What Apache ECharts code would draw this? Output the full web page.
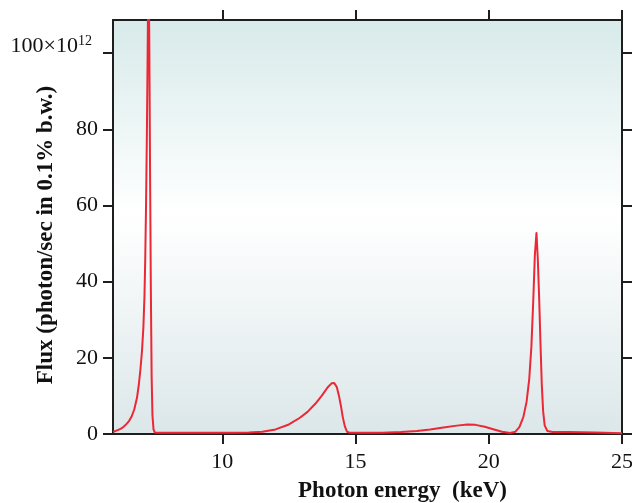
<!DOCTYPE html>
<html>
<head>
<meta charset="utf-8">
<script src="https://cdn.jsdelivr.net/npm/echarts@6/dist/echarts.min.js"></script>
<style>
  html, body { margin: 0; padding: 0; background: #ffffff; }
  #chart { width: 632px; height: 503px; }
</style>
</head>
<body>
<div id="chart"></div>
<script>
// Photon energy (keV)
const energy = [
  5.9, 6.0, 6.1, 6.2, 6.3, 6.4, 6.5, 6.6, 6.7, 6.8, 6.87, 6.93, 6.99, 7.04, 7.08, 7.11, 7.14, 7.17,
  7.20, 7.23, 7.26, 7.29, 7.32, 7.35, 7.38, 7.42, 7.47, 7.6,
  8.5, 9.5, 10.5, 11.0, 11.5, 12.0, 12.5, 12.9, 13.2, 13.5, 13.75, 13.95, 14.1, 14.2, 14.3,
  14.38, 14.45, 14.52, 14.6, 14.68, 14.8,
  15.5, 16.0, 16.7, 17.3, 17.8, 18.3, 18.8, 19.2, 19.5, 19.85, 20.2, 20.5, 20.8,
  21.0, 21.15, 21.3, 21.42, 21.52, 21.6, 21.67, 21.73, 21.79, 21.84, 21.89, 21.94, 21.99,
  22.04, 22.1, 22.2, 22.4, 23.0, 24.0, 25.0
];
// Flux in units of 10^12 photon/sec in 0.1% b.w.
const flux = [
  0.6, 0.8, 1.1, 1.4, 1.9, 2.6, 3.4, 4.6, 6.5, 9.5, 13, 17, 22, 28, 36, 46, 60, 78,
  100, 125, 105, 70, 38, 15, 5, 1.2, 0.4, 0.3,
  0.3, 0.3, 0.3, 0.4, 0.6, 1.2, 2.5, 4.2, 5.8, 8.0, 10.2, 12.2, 13.3, 13.4, 12.3,
  10, 7.5, 4.5, 2, 0.6, 0.3,
  0.3, 0.35, 0.5, 0.8, 1.2, 1.7, 2.2, 2.5, 2.4, 1.9, 1.2, 0.6, 0.25,
  0.6, 1.8, 4.5, 8.5, 14.5, 23, 35, 47, 52.8, 46, 36, 24, 13,
  6, 2.2, 0.8, 0.5, 0.5, 0.4, 0.2
];
const xTicks = [10, 15, 20, 25];
const yTicks = [0, 20, 40, 60, 80, 100];

const font = 'Liberation Serif';
const axisColor = '#1e1e1e';

const chart = echarts.init(document.getElementById('chart'), null, { renderer: 'canvas' });

// shared frame settings: a closed box with outward ticks on all four sides
const baseX = {
  type: 'value', min: 5.9, max: 25,
  axisLine: { show: true, onZero: false, lineStyle: { color: axisColor, width: 2 } },
  axisTick: { show: true, inside: false, length: 10, customValues: xTicks, lineStyle: { color: axisColor, width: 2 } },
  splitLine: { show: false },
  nameMoveOverlap: false
};
const baseY = {
  type: 'value', min: 0, max: 108.7,
  axisLine: { show: true, onZero: false, lineStyle: { color: axisColor, width: 2 } },
  axisTick: { show: true, inside: false, length: 10, customValues: yTicks, lineStyle: { color: axisColor, width: 2 } },
  splitLine: { show: false },
  nameMoveOverlap: false
};

chart.setOption({
  animation: false,
  backgroundColor: '#ffffff',
  grid: {
    left: 113, right: 10, top: 20, bottom: 69,
    outerBoundsMode: 'none',
    containLabel: false,
    show: true, borderWidth: 0,
    backgroundColor: new echarts.graphic.LinearGradient(0, 0, 0, 1, [
      { offset: 0, color: '#d8eaea' },
      { offset: 0.47, color: '#ffffff' },
      { offset: 1, color: '#dce7e9' }
    ])
  },
  xAxis: [
    Object.assign({}, baseX, {
      position: 'bottom',
      name: 'Photon energy  (keV)',
      nameLocation: 'middle', nameGap: 46,
      nameTextStyle: { fontFamily: font, fontWeight: 'bold', fontSize: 23, color: '#111', padding: [0, 0, 0, 70] },
      axisLabel: { show: true, customValues: xTicks, margin: 17, fontFamily: font, fontSize: 22, color: '#111' }
    }),
    Object.assign({}, baseX, {
      position: 'top',
      axisLabel: { show: false }
    })
  ],
  yAxis: [
    Object.assign({}, baseY, {
      position: 'left',
      name: 'Flux (photon/sec in 0.1% b.w.)',
      nameLocation: 'middle', nameGap: 55, nameRotate: 90,
      nameTextStyle: { fontFamily: font, fontWeight: 'bold', fontSize: 23, color: '#111', padding: [0, 16, 0, 0] },
      axisLabel: {
        show: true, customValues: yTicks, margin: 15,
        fontFamily: font, fontSize: 22, color: '#111',
        // top label carries the 10^12 scale factor
        formatter: function (v) { return v === 100 ? '{b|100×10}{sup|12}' : String(v); },
        rich: {
          b: { fontFamily: font, fontSize: 22, color: '#111', padding: [0, 0, 14, 0] },
          sup: { fontFamily: font, fontSize: 14, verticalAlign: 'top', padding: [0, 6, 24, 0], color: '#111' }
        }
      }
    }),
    Object.assign({}, baseY, {
      position: 'right',
      axisLabel: { show: false }
    })
  ],
  series: [{
    type: 'line',
    xAxisIndex: 0, yAxisIndex: 0,
    data: energy.map((e, i) => [e, flux[i]]),
    showSymbol: false,
    smooth: false,
    clip: true,
    lineStyle: { color: '#ec2736', width: 2, join: 'round' }
  }]
});
</script>
</body>
</html>
